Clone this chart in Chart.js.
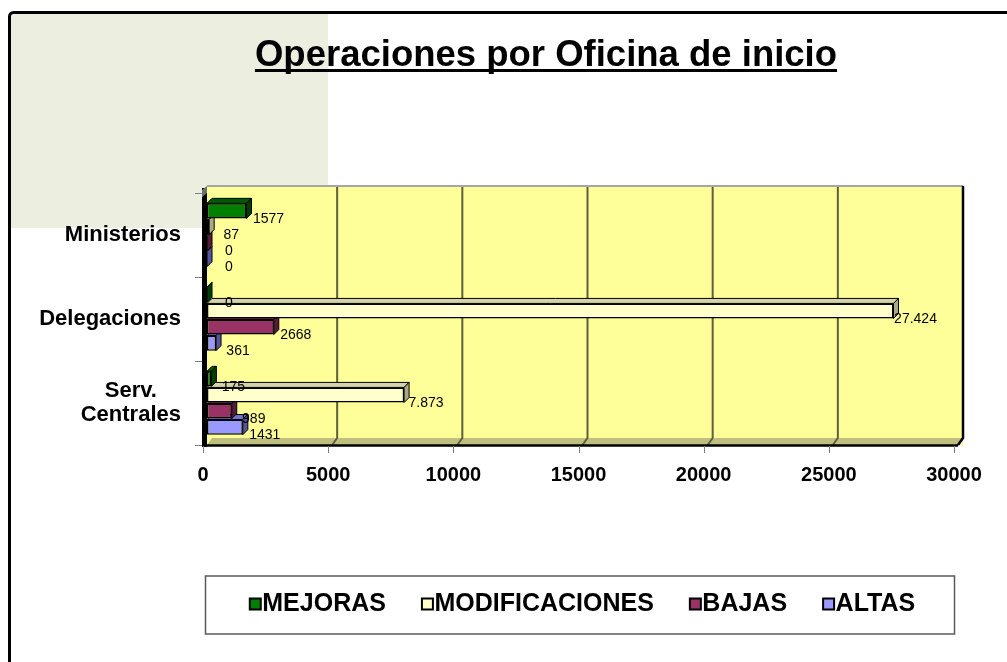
<!DOCTYPE html>
<html><head><meta charset="utf-8">
<script src="https://cdn.jsdelivr.net/npm/chart.js@4.4.1/dist/chart.umd.min.js"></script>
<style>html,body{margin:0;padding:0;background:#fff;overflow:hidden}#wrap{width:1007px;height:662px;position:relative}</style>
</head><body><div id="wrap"><canvas id="c" width="1007" height="662"></canvas></div>
<script>
// ---- data ----
const categories = ['Ministerios', 'Delegaciones', ['Serv.', 'Centrales']];
const seriesNames = ['MEJORAS', 'MODIFICACIONES', 'BAJAS', 'ALTAS'];
const mejoras = [1577, 0, 175];
const modificaciones = [87, 27424, 7873];
const bajas = [0, 2668, 989];
const altas = [0, 361, 1431];
const xTickValues = [0, 5000, 10000, 15000, 20000, 25000, 30000];
const titleText = 'Operaciones por Oficina de inicio';

// ---- styles ----
const fillColors = ['#008000', '#FFFFCC', '#993366', '#9999FF'];
const topColors = ['#005A00', '#D4D4A8', '#742650', '#7373C8'];
const sideColors = ['#003F00', '#A9A985', '#561B3A', '#5555A0'];
const groupedSeries = [false, true, false, false];
const FONT = '"Liberation Sans", Arial, sans-serif';
const D = 5;          // bar depth
const WX = 5, WY = 7; // wall depth

function fmt(v, grouped) {
  const s = String(v);
  return grouped ? s.replace(/\B(?=(\d{3})+(?!\d))/g, '.') : s;
}

const seriesValues = [mejoras, modificaciones, bajas, altas];

const decor = {
  id: 'decor',
  beforeDraw(chart) {
    const ctx = chart.ctx;
    ctx.save();
    ctx.fillStyle = '#fff';
    ctx.fillRect(0, 0, chart.width, chart.height);
    ctx.fillStyle = '#ECEFDF';
    ctx.fillRect(11, 14, 317, 214);
    ctx.lineWidth = 3;
    ctx.strokeStyle = '#000';
    ctx.beginPath();
    if (ctx.roundRect) ctx.roundRect(9.5, 12.5, 1200, 900, 4); else ctx.rect(9.5, 12.5, 1200, 900);
    ctx.stroke();
    // title
    ctx.font = 'bold 36.5px ' + FONT;
    ctx.textAlign = 'center';
    ctx.textBaseline = 'alphabetic';
    ctx.fillStyle = '#000';
    ctx.fillText(titleText, 546, 66);
    const w = ctx.measureText(titleText).width;
    ctx.fillRect(546 - w / 2, 69, w, 3);
    ctx.restore();
  },
  beforeDatasetsDraw(chart) {
    const ctx = chart.ctx, a = chart.chartArea, xs = chart.scales.x, ys = chart.scales.y;
    ctx.save();
    // back wall
    ctx.fillStyle = '#FFFF99';
    ctx.fillRect(a.left, a.top - WY, a.right + WX - a.left, a.bottom - a.top + WY);
    // floor
    ctx.fillStyle = '#BEBE7E';
    ctx.beginPath();
    ctx.moveTo(a.left, a.bottom);
    ctx.lineTo(a.left + WX, a.bottom - WY);
    ctx.lineTo(a.right + WX, a.bottom - WY);
    ctx.lineTo(a.right, a.bottom);
    ctx.closePath();
    ctx.fill();
    // grid lines
    ctx.strokeStyle = '#5E5E40';
    ctx.lineWidth = 2;
    xTickValues.forEach(v => {
      if (v === xTickValues[0] || v === xTickValues[xTickValues.length - 1]) return;
      const px = xs.getPixelForValue(v);
      ctx.beginPath();
      ctx.moveTo(px + WX, a.top - WY);
      ctx.lineTo(px + WX, a.bottom - WY);
      ctx.lineTo(px, a.bottom);
      ctx.stroke();
    });
    // top edge
    ctx.strokeStyle = '#A6A6A6';
    ctx.lineWidth = 2;
    ctx.beginPath();
    ctx.moveTo(a.left, a.top - WY);
    ctx.lineTo(a.right + WX, a.top - WY);
    ctx.stroke();
    // right edge
    ctx.strokeStyle = '#000';
    ctx.lineWidth = 2.5;
    ctx.beginPath();
    ctx.moveTo(a.right + WX, a.top - WY);
    ctx.lineTo(a.right + WX, a.bottom - WY);
    ctx.lineTo(a.right, a.bottom);
    ctx.stroke();
    // front bottom edge
    ctx.beginPath();
    ctx.moveTo(a.left - 4, a.bottom + 0.5);
    ctx.lineTo(a.right, a.bottom + 0.5);
    ctx.stroke();
    // left wall
    ctx.fillStyle = '#000';
    ctx.fillRect(a.left - 5, a.top - WY + 2, 5, a.bottom - a.top + WY);
    ctx.fillStyle = '#6E6E6E';
    ctx.beginPath();
    ctx.moveTo(a.left - 5, a.top - WY + 4);
    ctx.lineTo(a.left, a.top - WY);
    ctx.lineTo(a.left, a.top);
    ctx.lineTo(a.left - 5, a.top + 4);
    ctx.closePath();
    ctx.fill();
    // y category boundary ticks
    ctx.strokeStyle = '#808080';
    ctx.lineWidth = 1;
    const n = categories.length;
    for (let i = 0; i <= n; i++) {
      const py = a.top + (a.bottom - a.top) * i / n;
      ctx.beginPath();
      ctx.moveTo(a.left - 12, Math.round(py) + 0.5);
      ctx.lineTo(a.left - 5, Math.round(py) + 0.5);
      ctx.stroke();
    }
    // x ticks below the floor
    xTickValues.forEach(v => {
      const px = Math.round(xs.getPixelForValue(v) - 4) + 0.5;
      ctx.beginPath();
      ctx.moveTo(px, a.bottom + 1);
      ctx.lineTo(px, a.bottom + 8);
      ctx.stroke();
    });
    // category labels: block right-aligned, lines centred inside the block
    ctx.font = 'bold 22px ' + FONT;
    ctx.fillStyle = '#000';
    ctx.textAlign = 'center';
    ctx.textBaseline = 'middle';
    const lh = 24;
    categories.forEach((lab, i) => {
      const lines = Array.isArray(lab) ? lab : [lab];
      const bw = Math.max(...lines.map(t => ctx.measureText(t).width));
      const cx = a.left - 26 - bw / 2;
      const cy = ys.getPixelForTick(i);
      lines.forEach((t, k) => {
        ctx.fillText(t, cx, cy + (k - (lines.length - 1) / 2) * lh);
      });
    });
    ctx.restore();
  },
  beforeDatasetDraw(chart, args) {
    const ctx = chart.ctx, i = args.index;
    const meta = chart.getDatasetMeta(i);
    ctx.save();
    ctx.strokeStyle = '#000';
    ctx.lineWidth = 1;
    meta.data.forEach(el => {
      const p = el.getProps(['x', 'y', 'base', 'height'], true);
      const top = p.y - p.height / 2, bottom = p.y + p.height / 2;
      ctx.fillStyle = topColors[i];
      ctx.beginPath();
      ctx.moveTo(p.base, top);
      ctx.lineTo(p.base + D, top - D);
      ctx.lineTo(p.x + D, top - D);
      ctx.lineTo(p.x, top);
      ctx.closePath();
      ctx.fill(); ctx.stroke();
      ctx.fillStyle = sideColors[i];
      ctx.beginPath();
      ctx.moveTo(p.x, top);
      ctx.lineTo(p.x + D, top - D);
      ctx.lineTo(p.x + D, bottom - D);
      ctx.lineTo(p.x, bottom);
      ctx.closePath();
      ctx.fill(); ctx.stroke();
    });
    ctx.restore();
  },
  afterDatasetsDraw(chart) {
    const ctx = chart.ctx;
    ctx.save();
    ctx.font = '14px ' + FONT;
    ctx.fillStyle = '#000';
    ctx.textAlign = 'center';
    ctx.textBaseline = 'middle';
    chart.data.datasets.forEach((ds, i) => {
      chart.getDatasetMeta(i).data.forEach((el, j) => {
        const p = el.getProps(['x', 'y'], true);
        ctx.fillText(fmt(ds.data[j], groupedSeries[i]), p.x + 22, p.y + 8);
      });
    });
    ctx.restore();
  },
  afterDraw(chart) {
    const ctx = chart.ctx, a = chart.chartArea, lg = chart.legend;
    if (!lg || !lg.legendHitBoxes.length) return;
    const hb = lg.legendHitBoxes;
    ctx.save();
    hb.forEach((h, i) => {
      const sy = h.top + h.height / 2 - 6;
      ctx.fillStyle = fillColors[i];
      ctx.fillRect(h.left, sy, 11, 11);
      ctx.strokeStyle = '#000';
      ctx.lineWidth = 2;
      ctx.strokeRect(h.left, sy, 11, 11);
    });
    const t = Math.min(...hb.map(h => h.top)), b = Math.max(...hb.map(h => h.top + h.height));
    ctx.strokeStyle = '#5A5A5A';
    ctx.lineWidth = 1.5;
    ctx.strokeRect(a.left - 1.5, t - 16, a.right - a.left - 2, (b - t) + 33);
    ctx.restore();
  }
};

const datasets = seriesNames.map((name, i) => ({
  label: name,
  data: seriesValues[i],
  backgroundColor: fillColors[i],
  borderColor: '#000',
  borderWidth: 1.5,
  borderSkipped: false,
  categoryPercentage: 0.765,
  barPercentage: 0.94
}));

new Chart(document.getElementById('c'), {
  type: 'bar',
  data: { labels: categories, datasets },
  options: {
    indexAxis: 'y',
    responsive: false,
    animation: false,
    devicePixelRatio: 1,
    layout: { padding: { top: 193, right: 49, bottom: 35, left: 0 } },
    scales: {
      x: {
        min: 0, max: 30000,
        afterBuildTicks(s) { s.ticks = xTickValues.map(v => ({ value: v })); },
        afterFit(s) { s.height = 111; },
        grid: { display: false, drawTicks: false },
        border: { display: false },
        ticks: {
          font: { family: FONT, size: 20, weight: 'bold' },
          color: '#000',
          padding: 18,
          labelOffset: -4,
          maxRotation: 0,
          autoSkip: false,
          callback: v => String(v)
        }
      },
      y: {
        afterFit(s) { s.width = 207; },
        grid: { display: false, drawTicks: false },
        border: { display: false },
        ticks: { display: false }
      }
    },
    plugins: {
      title: { display: false },
      tooltip: { enabled: false },
      legend: {
        position: 'bottom',
        fullSize: false,
        labels: {
          font: { family: FONT, size: 25, weight: 'bold' },
          color: '#000',
          boxWidth: 0,
          boxHeight: 11,
          padding: 36,
          generateLabels(chart) {
            return chart.data.datasets.map((ds, i) => ({
              text: ds.label, fillStyle: 'rgba(0,0,0,0)', strokeStyle: 'rgba(0,0,0,0)',
              lineWidth: 0, datasetIndex: i, hidden: false
            }));
          }
        }
      }
    }
  },
  plugins: [decor]
});
</script></body></html>
